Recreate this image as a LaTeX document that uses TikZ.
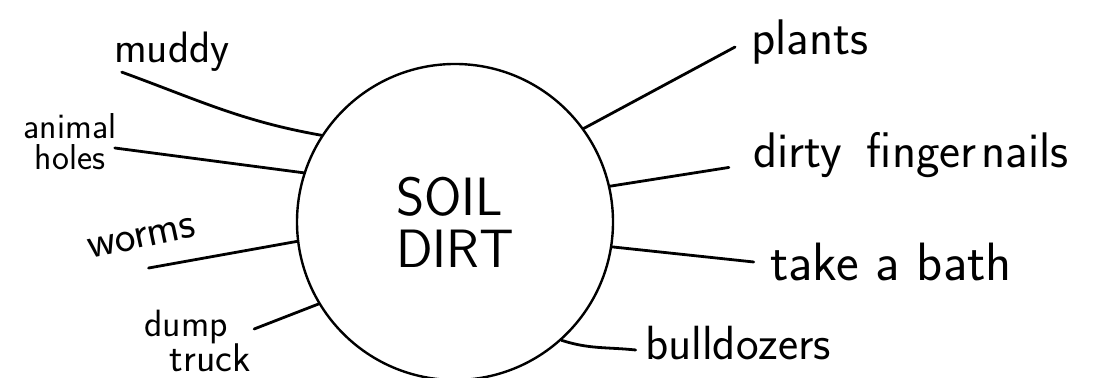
\documentclass[tikz,border=0pt]{standalone}
\usepackage{fontspec}
\usepackage{tikz}
\usetikzlibrary{positioning}

\begin{document}
\begin{tikzpicture}[
  x=0.5pt,y=0.5pt,
  hub/.style={draw=black,circle,line width=1.2pt,minimum size=158pt,inner sep=0pt,align=left,
    font=\sffamily\fontsize{27}{26}\selectfont},
  word/.style={font=\sffamily\fontsize{#1}{#1}\selectfont,inner sep=1pt,align=center},
  word/.default=21,
  arm/.style={line width=1.4pt,line cap=round}]
  \useasboundingbox (0,0) rectangle (1098,378);
  \node[hub] (soil) at (455,156) {SOIL\\DIRT};
  \node[word=22] (muddy) at (172,326) {muddy};
  \node[word=18] (holes) at (70,236) {animal\\[-2.5pt]holes};
  \node[word=22,rotate=12] (worms) at (142,140) {worms};
  \node[word=19] (dump) at (186,51) {dump};
  \node[word=20] (truck) at (210,20) {truck};
  \node[word=25] (plants) at (810,336) {plants};
  \node[word=25] (nails) at (911,223) {dirty\hspace{.5em}finger\hspace{.1em}nails};
  \node[word=27] (bath) at (891,116) {take a bath};
  \node[word=24] (bull) at (738,35) {bulldozers};
  \draw[arm] ([shift={(5pt,1pt)}]muddy.south west) to[out=-20,in=170] (soil.147);
  \draw[arm] ([shift={(-2pt,-3pt)}]holes.east) -- (soil.162);
  \draw[arm] ([shift={(2pt,-9pt)}]worms.south) -- (soil.187);
  \draw[arm] ([shift={(12pt,-1pt)}]dump.east) -- (soil.211);
  \draw[arm] (soil.36) -- ([shift={(-7pt,-2.5pt)}]plants.west);
  \draw[arm] (soil.13) -- ([xshift=-11pt]nails.base west);
  \draw[arm] (soil.-9) -- ([xshift=-7pt]bath.west);
  \draw[arm] (soil.-48) to[out=-18,in=174] ([shift={(-3.5pt,-3.5pt)}]bull.west);
\end{tikzpicture}
\end{document}
